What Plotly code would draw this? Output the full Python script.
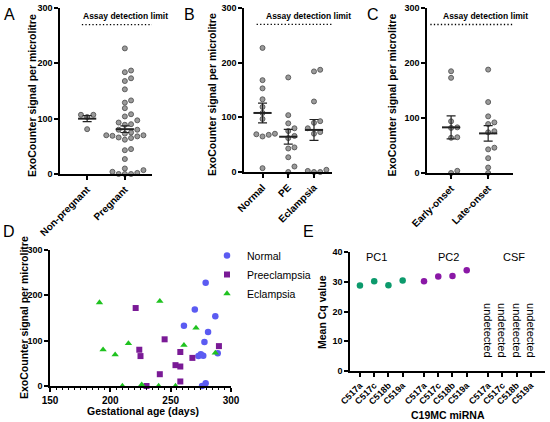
import numpy as np
import plotly.graph_objects as go

# ---- data ----
# A: pregnancy status
nonpreg = [107, 103, 107, 81]
# B: by outcome (pregnant = all three together)
normal = [227, 168, 153, 133, 119, 108, 97, 70, 69, 68, 65, 7]
pe = [173, 104, 89, 80, 75, 66, 62, 45, 43, 27, 10, 0]
eclampsia = [187, 184, 129, 93, 90, 80, 73, 70, 4, 2, 0, 0]
pregnant = normal + pe + eclampsia
# C: onset
early = [185, 173, 94, 83, 82, 65, 64, 0, 4]
late = [188, 129, 103, 92, 89, 76, 74, 46, 43, 27, 10, 0]

# mean and SEM as drawn
a_cats = ["Non-pregnant", "Pregnant"]
a_mean = [100, 81]
a_sem = [5.5, 6]
b_cats = ["Normal", "PE", "Eclampsia"]
b_mean = [108, 64.5, 77]
b_sem = [18, 13.5, 19]
c_cats = ["Early-onset", "Late-onset"]
c_mean = [83, 72]
c_sem = [21, 14]
detect_limit = 270

# D: gestational age vs signal
d_normal_x = [279, 270, 287, 261, 281, 278, 273, 275, 277, 289, 279, 276]
d_normal_y = [228, 169, 154, 133, 119, 97, 66, 70, 67, 72, 6, 0]
d_pe_x = [221, 224, 225, 230, 241, 245, 254, 258, 258, 258, 268, 290]
d_pe_y = [172, 80, 66, 0, 26, 103, 46, 43, 75, 10, 62, 88]
d_ecl_x = [191, 194, 204, 210, 215, 226, 240, 241, 254, 261, 271, 287]
d_ecl_y = [184, 80, 69, 0, 94, 3, 0, 187, 0, 90, 128, 73]

# E: C19MC miRNA Cq
mirnas = ["C517a", "C517c", "C518b", "C519a"]
groups = ["PC1", "PC2", "CSF"]
pc1_cq = [28.7, 30.2, 28.8, 30.4]
pc2_cq = [30.2, 31.8, 31.9, 33.9]

FONT = "Liberation Sans, Arial, sans-serif"
W, H = 550, 422
DOT_FILL = "#9a9a9a"
DOT_LINE = "#555555"
Y_TITLE = "ExoCounter signal per microlitre"


def swarm(vals, ypx, xpx, step=6.2, diam=5.5):
    # simple beeswarm: push points sideways when they would overlap
    vals = np.asarray(vals, dtype=float)
    offs = np.zeros(len(vals))
    placed = []
    for i in np.argsort(vals):
        y = vals[i] * ypx
        for k in [0, 1, -1, 2, -2, 3, -3, 4, -4]:
            x = k * step
            if all((x - px) ** 2 + (y - py) ** 2 >= diam ** 2 for px, py in placed):
                break
        placed.append((x, y))
        offs[i] = x / xpx
    return offs


def dom_x(a, b):
    return [a / W, b / W]


def dom_y(top, bottom):
    return [1 - bottom / H, 1 - top / H]


def paper_text(text, px, py, size, bold=False, angle=0):
    return dict(text=text, xref="paper", yref="paper", x=px / W, y=1 - py / H,
                xanchor="center", yanchor="middle", textangle=angle, showarrow=False,
                font=dict(family=FONT, size=size, color="black",
                          weight="bold" if bold else "normal"))


fig = go.Figure()

axis_line = dict(showline=True, linecolor="black", linewidth=1.5, ticks="outside",
                 tickcolor="black", tickwidth=1.5, ticklen=4, showgrid=False, zeroline=False,
                 automargin=False)
ytick_font = dict(family=FONT, size=9, color="black", weight="bold")
xtick_font = dict(family=FONT, size=10, color="black", weight="bold")

annotations = []
shapes = []

panels = [
    # axis suffix, categories, values, means, sems, x px, y px, x range, limit line start, label x, title x
    ("", a_cats, [nonpreg, pregnant], a_mean, a_sem, (60, 152), (8, 174), [-0.72, 1.72], -0.14, 1.03, 32),
    ("2", b_cats, [normal, pe, eclampsia], b_mean, b_sem, (244, 332), (8, 172), [-0.72, 2.7], -0.23, 1.77, 212),
    ("3", c_cats, [early, late], c_mean, c_sem, (427, 513), (8, 173), [-0.65, 1.67], -0.56, 0.94, 392),
]

for suf, cats, vals, means, sems, xd, yd, xr, lim_x0, lab_x, tx in panels:
    xa, ya = "x" + suf, "y" + suf
    xpx = (xd[1] - xd[0]) / (xr[1] - xr[0])
    ypx = (yd[1] - yd[0]) / 300.0
    for ci, v in enumerate(vals):
        offs = swarm(v, ypx, xpx)
        fig.add_trace(go.Scatter(
            x=ci + offs, y=v, mode="markers", xaxis=xa, yaxis=ya, showlegend=False,
            cliponaxis=False,
            marker=dict(size=5, color=DOT_FILL, line=dict(color=DOT_LINE, width=0.9))))
    fig.add_trace(go.Scatter(
        x=list(range(len(cats))), y=means, mode="markers", xaxis=xa, yaxis=ya,
        showlegend=False, cliponaxis=False,
        marker=dict(symbol="line-ew", size=13, line=dict(color="#222222", width=2)),
        error_y=dict(type="data", array=sems, color="#222222", thickness=1.2, width=4.5)))
    fig.layout["xaxis" + suf] = dict(domain=dom_x(*xd), range=xr, anchor=ya, tickmode="array",
                                     tickvals=list(range(len(cats))), ticktext=cats,
                                     tickangle=-45, tickfont=xtick_font, **axis_line)
    fig.layout["yaxis" + suf] = dict(domain=dom_y(*yd), range=[0, 300], anchor=xa,
                                     tickvals=[0, 100, 200, 300], tickfont=ytick_font,
                                     **axis_line)
    shapes.append(dict(type="line", xref=xa, yref=ya, x0=lim_x0, x1=xr[1],
                       y0=detect_limit, y1=detect_limit,
                       line=dict(color="black", width=1.3, dash="1.3px,2.2px")))
    annotations.append(dict(text="Assay detection limit", xref=xa, yref=ya, x=lab_x, y=286,
                            showarrow=False,
                            font=dict(family=FONT, size=8.5, color="black", weight="bold")))
    annotations.append(paper_text(Y_TITLE, tx, (yd[0] + yd[1]) / 2 + 5, 10.5, True, -90))

# ---- D: scatter ----
for name, xs, ys, sym, col, sz in [
    ("Normal", d_normal_x, d_normal_y, "circle", "#5b5bf2", 6.5),
    ("Preeclampsia", d_pe_x, d_pe_y, "square", "#7a1a96", 6),
    ("Eclampsia", d_ecl_x, d_ecl_y, "triangle-up", "#1fc21f", 6.5),
]:
    fig.add_trace(go.Scatter(x=xs, y=ys, mode="markers", name=name, xaxis="x4", yaxis="y4",
                             cliponaxis=False, marker=dict(symbol=sym, size=sz, color=col)))

fig.layout.xaxis4 = dict(domain=dom_x(50, 231), range=[150, 300], anchor="y4",
                         tickvals=[150, 200, 250, 300], tickfont=xtick_font,
                         minor=dict(dtick=5, ticks="outside", ticklen=2.5, tickcolor="black",
                                    tickwidth=1),
                         **axis_line)
fig.layout.yaxis4 = dict(domain=dom_y(250, 386), range=[0, 300], anchor="x4",
                         tickvals=[0, 100, 200, 300], tickfont=ytick_font, **axis_line)
annotations.append(paper_text(Y_TITLE, 24, 318, 10.5, True, -90))
annotations.append(paper_text("Gestational age (days)", 143, 411, 10.5, True))

# ---- E: Cq values ----
gap = 4.5
group_label_x = [1.15, 6.2, 10.8]
pos = {g: [gi * gap + i for i in range(len(mirnas))] for gi, g in enumerate(groups)}
fig.add_trace(go.Scatter(x=pos["PC1"], y=pc1_cq, mode="markers", xaxis="x5", yaxis="y5",
                         showlegend=False, marker=dict(size=6.5, color="#0c9a6c")))
fig.add_trace(go.Scatter(x=pos["PC2"], y=pc2_cq, mode="markers", xaxis="x5", yaxis="y5",
                         showlegend=False, marker=dict(size=6.5, color="#8a18a6")))
for g, lx in zip(groups, group_label_x):
    annotations.append(dict(text=g, xref="x5", yref="y5", x=lx, y=38.2, showarrow=False,
                            font=dict(family=FONT, size=11, color="black")))
# one rotated block so the four words stay aligned (line height ~ tick spacing)
csf_x = pos["CSF"]
annotations.append(dict(text="<br>".join(["undetected"] * len(csf_x)), xref="x5", yref="y5",
                        x=sum(csf_x) / len(csf_x), y=13.6, xanchor="center", yanchor="middle",
                        textangle=90, showarrow=False, align="left",
                        font=dict(family=FONT, size=11, color="black")))

all_pos = pos["PC1"] + pos["PC2"] + pos["CSF"]
fig.layout.xaxis5 = dict(domain=dom_x(350, 545), range=[-0.7, 13.0], anchor="y5",
                         tickmode="array", tickvals=all_pos, ticktext=mirnas * 3, tickangle=-45,
                         tickfont=dict(family=FONT, size=9, color="black", weight="bold"),
                         **axis_line)
fig.layout.yaxis5 = dict(domain=dom_y(252, 371), range=[0, 40], anchor="x5",
                         tickvals=[0, 10, 20, 30, 40], tickfont=ytick_font, **axis_line)
annotations.append(paper_text("Mean Cq value", 322, 312, 10.5, True, -90))
annotations.append(paper_text("C19MC miRNA", 448, 415, 10.5, True))

# panel letters
for letter, px, py in [("A", 9, 14), ("B", 189, 14), ("C", 373, 14), ("D", 9, 231), ("E", 308, 231)]:
    annotations.append(paper_text(letter, px, py, 16))

fig.update_layout(
    width=W, height=H, margin=dict(l=0, r=0, t=0, b=0, autoexpand=False),
    plot_bgcolor="white", paper_bgcolor="white",
    font=dict(family=FONT, color="black"),
    showlegend=True,
    legend=dict(x=207 / W, y=1 - 241 / H, xanchor="left", yanchor="top",
                bgcolor="rgba(0,0,0,0)", font=dict(family=FONT, size=10.5, color="black"),
                tracegroupgap=0),
    annotations=annotations, shapes=shapes,
)

# the browser adds an 8px body margin; drop it so the figure fills the window
fig.write_html("out.html", config={"displayModeBar": False},
               post_script="document.body.style.margin='0';")
